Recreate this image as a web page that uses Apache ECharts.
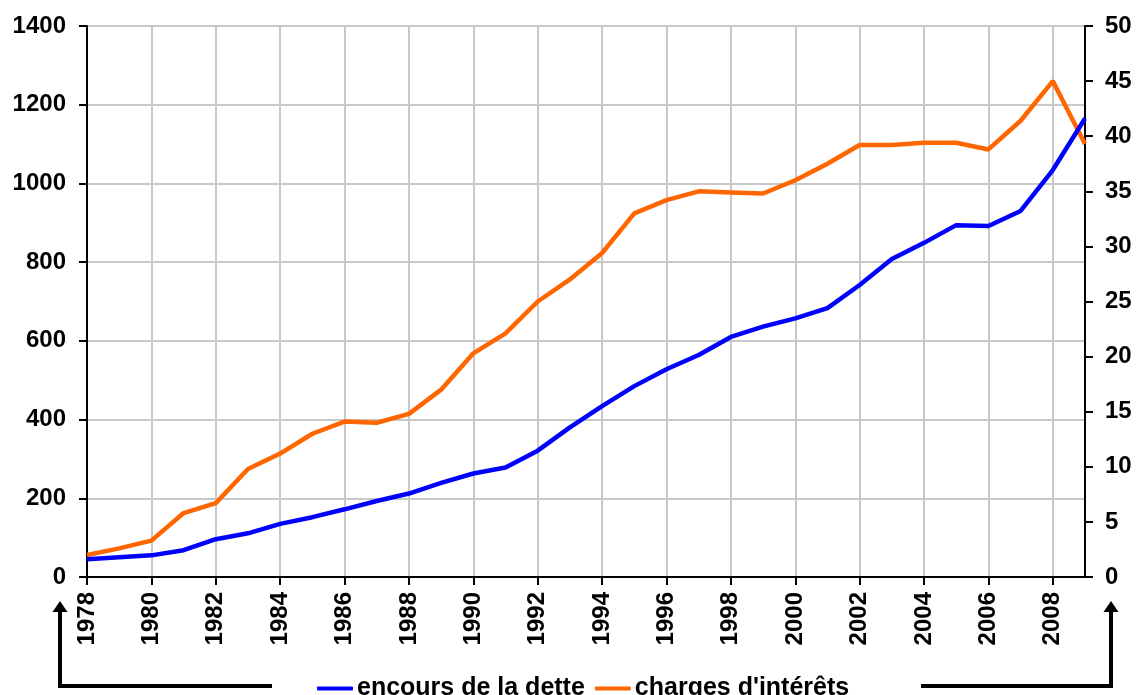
<!DOCTYPE html>
<html>
<head>
<meta charset="utf-8">
<title>Encours de la dette et charges d'intérêts</title>
<script src="https://cdn.jsdelivr.net/npm/echarts@6/dist/echarts.min.js"></script>
<style>
  html, body { margin: 0; padding: 0; background: #fff; }
  #chart { width: 1136px; height: 695px; }
</style>
</head>
<body>
<div id="chart"></div>
<script>
// Years 1978–2009
const years = ['1978','1979','1980','1981','1982','1983','1984','1985','1986','1987',
  '1988','1989','1990','1991','1992','1993','1994','1995','1996','1997',
  '1998','1999','2000','2001','2002','2003','2004','2005','2006','2007',
  '2008','2009'];

// Encours de la dette (left axis)
const encours = [45, 50, 55, 68, 96, 111, 135, 152, 172, 193,
  212, 239, 263, 278, 321, 380, 434, 485, 528, 564,
  610, 636, 657, 683, 742, 808, 849, 894, 892, 930,
  1034, 1165];

// Charges d'intérêts (right axis)
const charges = [2.0, 2.6, 3.3, 5.8, 6.7, 9.8, 11.2, 13.0, 14.1, 14.0,
  14.8, 17.0, 20.3, 22.1, 25.0, 27.0, 29.4, 33.0, 34.2, 35.0,
  34.9, 34.8, 36.0, 37.5, 39.2, 39.2, 39.4, 39.4, 38.8, 41.4,
  45.0, 39.3];

const seriesNames = ['encours de la dette', "charges d'intérêts"];

const FONT = '"Liberation Sans", Arial, sans-serif';
const labelStyle = { color: '#000', fontFamily: FONT, fontWeight: 'bold', fontSize: 24 };
const plain = v => String(v);

const chart = echarts.init(document.getElementById('chart'), null, { renderer: 'canvas' });

chart.setOption({
  backgroundColor: '#fff',
  animation: false,
  grid: { left: 87, right: 51, top: 26, bottom: 118, containLabel: false },
  legend: {
    left: 312,
    top: 671,
    itemWidth: 36,
    itemHeight: 4,
    itemGap: 10,
    icon: 'roundRect',
    textStyle: { color: '#000', fontFamily: FONT, fontWeight: 'bold', fontSize: 25, padding: [0, 0, 0, -1] },
    data: seriesNames
  },
  xAxis: {
    type: 'category',
    data: years,
    boundaryGap: false,
    axisLine: { lineStyle: { color: '#000', width: 2 } },
    axisTick: { show: true, interval: 1, length: 8, lineStyle: { color: '#000', width: 2 } },
    axisLabel: Object.assign({ interval: 1, rotate: 90, margin: 15 }, labelStyle),
    splitLine: { show: true, interval: 1, lineStyle: { color: '#c8c8c8', width: 2 } }
  },
  yAxis: [
    {
      type: 'value',
      min: 0, max: 1400, interval: 200,
      position: 'left',
      axisLine: { show: true, lineStyle: { color: '#000', width: 2 } },
      axisTick: { show: true, length: 8, lineStyle: { color: '#000', width: 2 } },
      axisLabel: Object.assign({ margin: 21, formatter: plain }, labelStyle),
      splitLine: { show: true, lineStyle: { color: '#c8c8c8', width: 2 } }
    },
    {
      type: 'value',
      min: 0, max: 50, interval: 5,
      position: 'right',
      axisLine: { show: true, lineStyle: { color: '#000', width: 2 } },
      axisTick: { show: true, length: 8, lineStyle: { color: '#000', width: 2 } },
      axisLabel: Object.assign({ margin: 20, formatter: plain }, labelStyle),
      splitLine: { show: false }
    }
  ],
  series: [
    {
      name: seriesNames[0],
      type: 'line',
      yAxisIndex: 0,
      data: encours,
      symbol: 'none',
      lineStyle: { color: '#0000ff', width: 4.5 },
      itemStyle: { color: '#0000ff' },
      z: 3
    },
    {
      name: seriesNames[1],
      type: 'line',
      yAxisIndex: 1,
      data: charges,
      symbol: 'none',
      lineStyle: { color: '#ff6600', width: 4.5 },
      itemStyle: { color: '#ff6600' },
      z: 2
    }
  ],
  // Arrows pointing from the legend to each axis
  graphic: [
    { type: 'polyline', shape: { points: [[272, 686], [60, 686], [60, 610]] },
      style: { stroke: '#000', lineWidth: 4, fill: null } },
    { type: 'polygon', shape: { points: [[60, 601], [52.5, 612], [67.5, 612]] },
      style: { fill: '#000' } },
    { type: 'polyline', shape: { points: [[921, 686], [1111, 686], [1111, 610]] },
      style: { stroke: '#000', lineWidth: 4, fill: null } },
    { type: 'polygon', shape: { points: [[1111, 601], [1103.5, 612], [1118.5, 612]] },
      style: { fill: '#000' } }
  ]
});
</script>
</body>
</html>
